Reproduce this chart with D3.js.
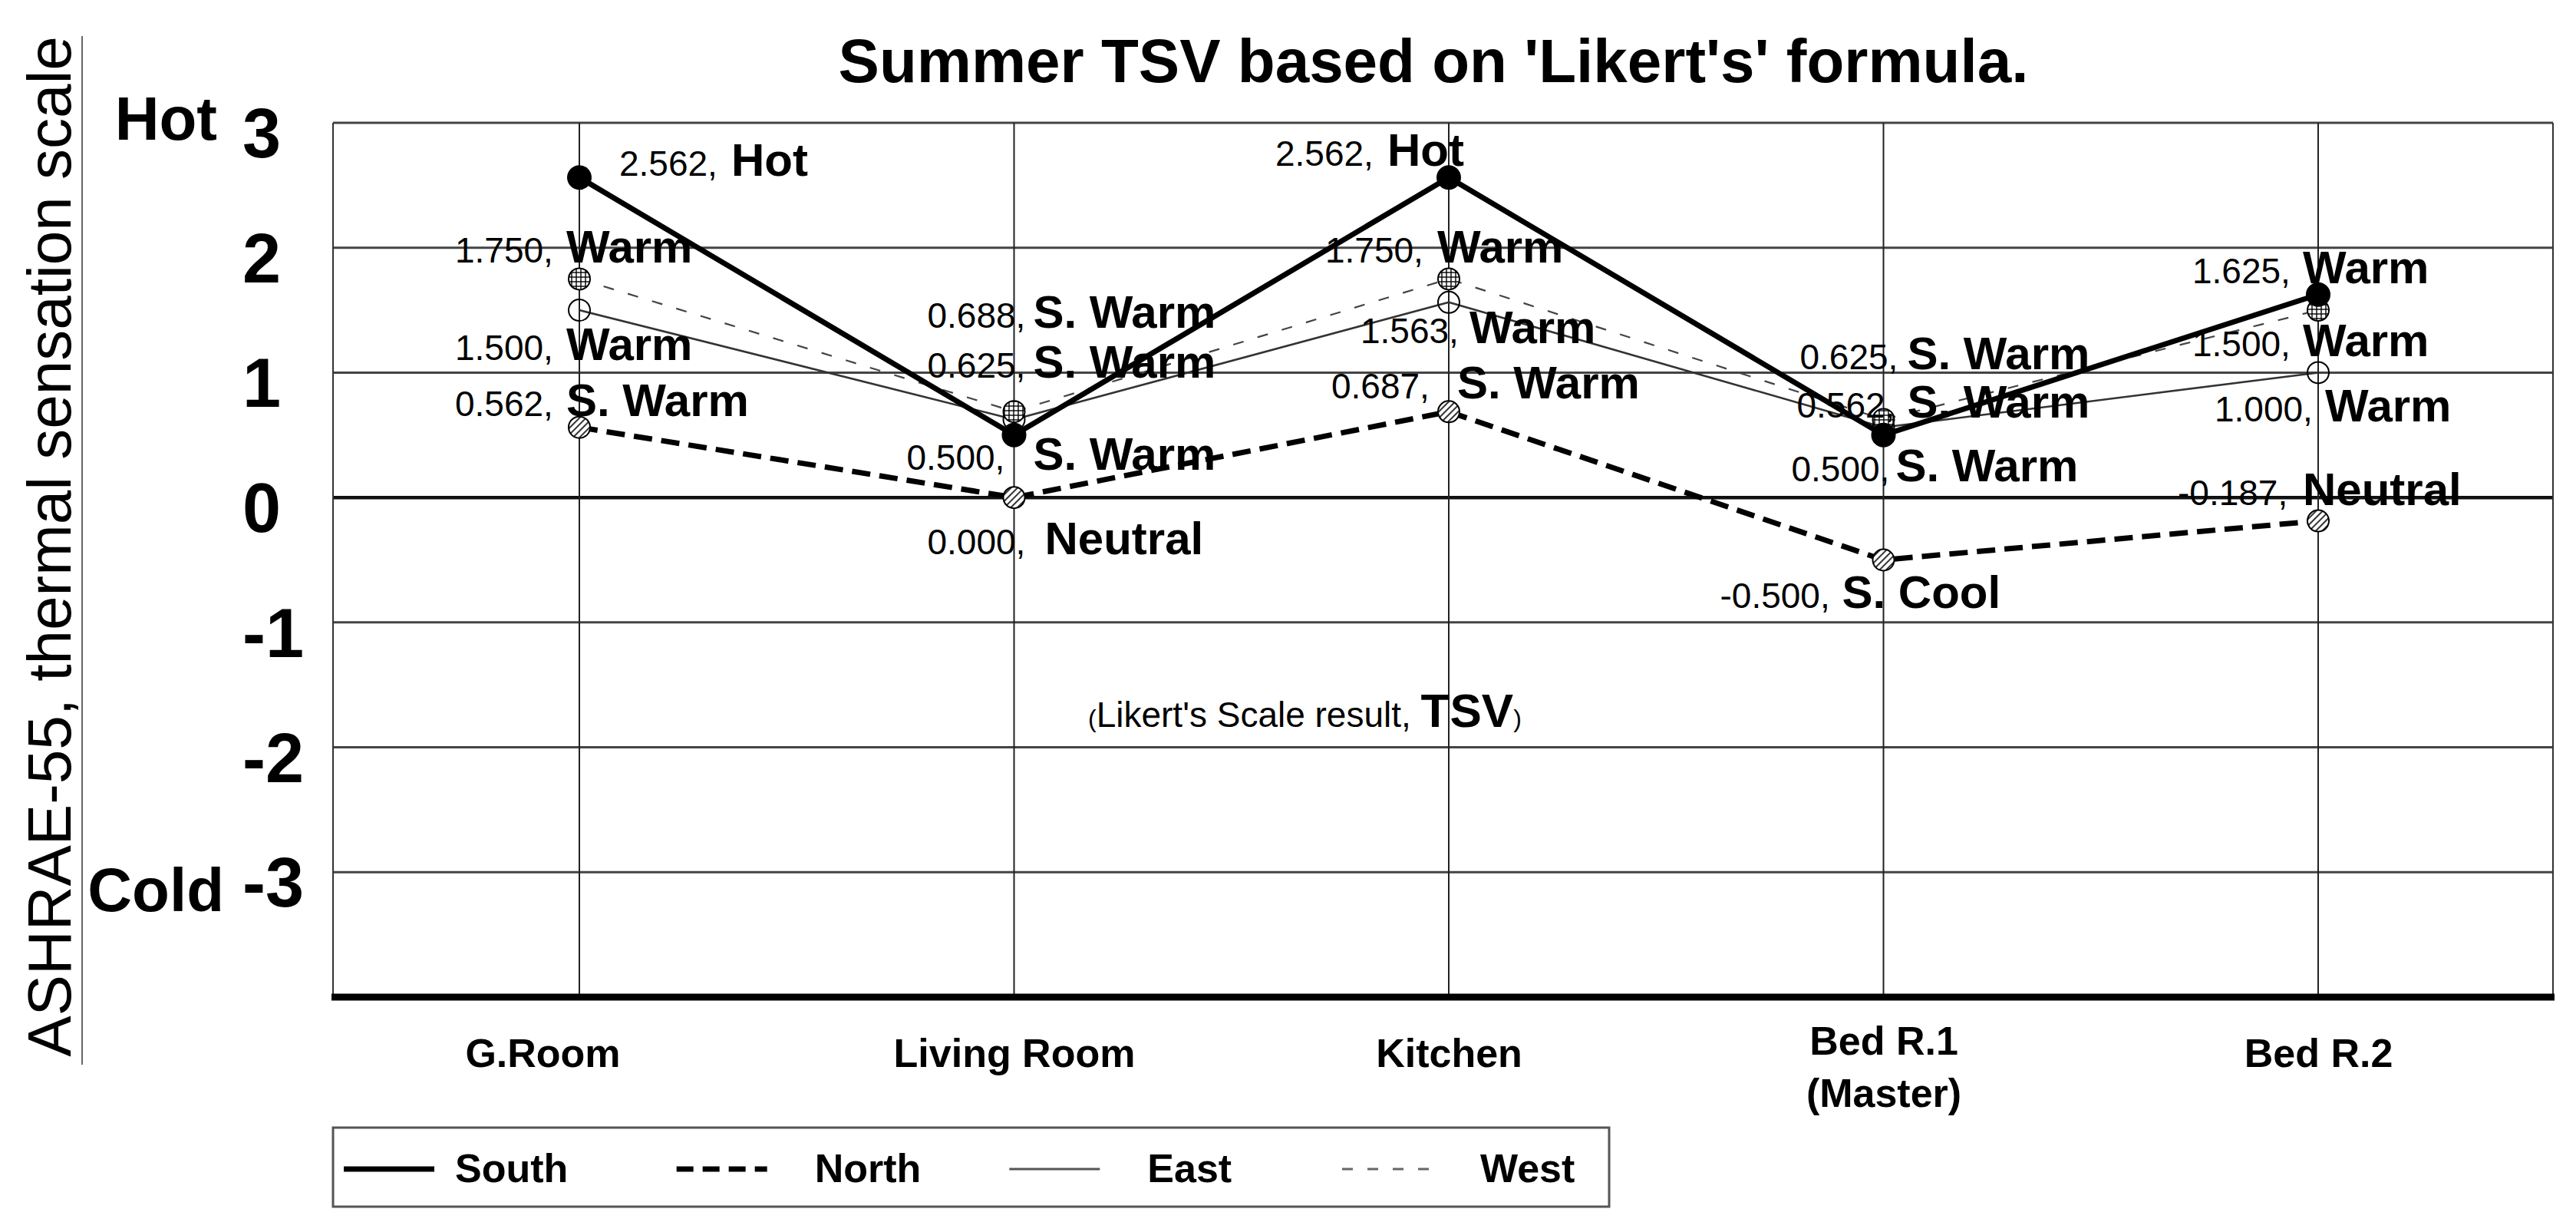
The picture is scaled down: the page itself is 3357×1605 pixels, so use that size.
<!DOCTYPE html>
<html><head><meta charset="utf-8">
<script src="https://cdn.jsdelivr.net/npm/d3@7"></script>
<style>
body{margin:0;background:#fff}
svg{display:block}
text{font-family:"Liberation Sans",Arial,Helvetica,sans-serif;fill:#000}
</style>
</head><body>
<svg id="c" width="3357" height="1605"></svg>
<script>
// ---------- data ----------
const categories = ["G.Room", "Living Room", "Kitchen", "Bed R.1\n(Master)", "Bed R.2"];
const southValues = [2.562, 0.500, 2.562, 0.500, 1.625];
const northValues = [0.562, 0.000, 0.687, -0.500, -0.187];
const eastValues  = [1.500, 0.625, 1.563, 0.562, 1.000];
const westValues  = [1.750, 0.688, 1.750, 0.625, 1.500];
const southWords = ["Hot", "S. Warm", "Hot", "S. Warm", "Warm"];
const northWords = ["S. Warm", "Neutral", "S. Warm", "S. Cool", "Neutral"];
const eastWords  = ["Warm", "S. Warm", "Warm", "S. Warm", "Warm"];
const westWords  = ["Warm", "S. Warm", "Warm", "S. Warm", "Warm"];
const seriesNames = ["South", "North", "East", "West"];
const yTickValues = [3, 2, 1, 0, -1, -2, -3];
const yTopWord = "Hot";
const yBottomWord = "Cold";
const titleText = "Summer TSV based on 'Likert's' formula.";
const yAxisTitle = "ASHRAE-55, thermal sensation scale";

// ---------- label placement (offsets from each point: number x, word x, baseline dy) ----------
const labelOffsets = {
  South: [[52,198,-2],[-140,25,45],[-226,-80,-15],[-120,16,60],[-164,-20,-15]],
  North: [[-162,-17,-15],[-113,40,74],[-153,11,-17],[-213,-54,62],[-183,-20,-21]],
  East:  [[-162,-17,65],[-113,25,-54],[-115,27,53],[-113,31,-13],[-135,9,64]],
  West:  [[-162,-17,-21],[-113,25,-109],[-161,-15,-21],[-109,31,-65],[-164,-20,60]]
};

const svg = d3.select("#c");
const plot = {left: 434, right: 3327, top: 160, bottom: 1299};

const x = d3.scalePoint().domain(categories).range([755, 3021]);
const y = d3.scaleLinear().domain([-4, 3]).range([plot.bottom, plot.top]);
const locale = d3.formatLocale({decimal: ".", thousands: ",", grouping: [3], currency: ["", ""], minus: "-"});
const fmt = locale.format(".3f");
const fmtInt = locale.format("d");

// ---------- patterns ----------
const defs = svg.append("defs");
const hatch = defs.append("pattern").attr("id", "hatch").attr("patternUnits", "userSpaceOnUse")
  .attr("width", 6).attr("height", 6).attr("patternTransform", "rotate(45)");
hatch.append("rect").attr("width", 6).attr("height", 6).attr("fill", "#fff");
hatch.append("line").attr("x1", 1).attr("y1", 0).attr("x2", 1).attr("y2", 6).attr("stroke", "#000").attr("stroke-width", 1.6);
const grid = defs.append("pattern").attr("id", "gridp").attr("patternUnits", "userSpaceOnUse")
  .attr("width", 6).attr("height", 6);
grid.append("rect").attr("width", 6).attr("height", 6).attr("fill", "#fff");
grid.append("line").attr("x1", 1).attr("y1", 0).attr("x2", 1).attr("y2", 6).attr("stroke", "#000").attr("stroke-width", 1.4);
grid.append("line").attr("x1", 0).attr("y1", 1).attr("x2", 6).attr("y2", 1).attr("stroke", "#000").attr("stroke-width", 1.4);

// ---------- title ----------
svg.append("text").attr("x", 1868).attr("y", 107).attr("text-anchor", "middle")
  .attr("font-size", 80).attr("font-weight", "bold").text(titleText);

// ---------- y axis title ----------
svg.append("text").attr("transform", "translate(92,712) rotate(-90)").attr("text-anchor", "middle")
  .attr("font-size", 80).text(yAxisTitle);
svg.append("line").attr("x1", 107).attr("x2", 107).attr("y1", 47).attr("y2", 1387)
  .attr("stroke", "#666").attr("stroke-width", 2);

// ---------- grid ----------
const g = svg.append("g");
g.selectAll("line.h").data(yTickValues).join("line").attr("class", "h")
  .attr("x1", plot.left).attr("x2", plot.right)
  .attr("y1", d => y(d)).attr("y2", d => y(d))
  .attr("stroke", d => d === 0 ? "#111" : "#444")
  .attr("stroke-width", d => d === 0 ? 4.5 : 3);
g.selectAll("line.v").data(categories).join("line").attr("class", "v")
  .attr("x1", d => x(d)).attr("x2", d => x(d))
  .attr("y1", plot.top).attr("y2", plot.bottom)
  .attr("stroke", "#222").attr("stroke-width", 2);
g.append("line").attr("x1", plot.left).attr("x2", plot.left).attr("y1", plot.top).attr("y2", plot.bottom)
  .attr("stroke", "#333").attr("stroke-width", 2);
g.append("line").attr("x1", plot.right).attr("x2", plot.right).attr("y1", plot.top).attr("y2", plot.bottom)
  .attr("stroke", "#333").attr("stroke-width", 2);
g.append("line").attr("x1", plot.left - 2).attr("x2", plot.right + 2).attr("y1", y(-4)).attr("y2", y(-4))
  .attr("stroke", "#000").attr("stroke-width", 9);

// ---------- y tick labels ----------
svg.selectAll("text.yt").data(yTickValues).join("text").attr("class", "yt")
  .attr("x", 316).attr("y", d => y(d) + 45)
  .attr("font-size", 90).attr("font-weight", "bold")
  .text(d => fmtInt(d));
svg.append("text").attr("x", 283).attr("y", y(3) + 22).attr("text-anchor", "end")
  .attr("font-size", 80).attr("font-weight", "bold").text(yTopWord);
svg.append("text").attr("x", 292).attr("y", y(-3) + 51).attr("text-anchor", "end")
  .attr("font-size", 80).attr("font-weight", "bold").text(yBottomWord);

// ---------- x axis labels ----------
const xAxis = svg.append("g").attr("transform", `translate(0,${plot.bottom})`)
  .call(d3.axisBottom(x).tickSize(0).tickFormat(""));
xAxis.select(".domain").remove();
xAxis.selectAll(".tick").each(function(d, i) {
  const lines = d.split("\n");
  const t = d3.select(this).append("text").attr("text-anchor", "middle")
    .attr("font-size", 52).attr("font-weight", "bold").attr("fill", "#000");
  const startY = lines.length > 1 ? 75 : 91;
  const shift = i === 0 ? -48 : 0;
  lines.forEach((ln, k) => t.append("tspan").attr("x", shift).attr("y", startY + k * 68).text(ln));
});

// ---------- series ----------
const series = [
  {name: "West",  values: westValues,  words: westWords,  width: 2.2, dash: "14,19", color: "#444", marker: "url(#gridp)", r: 14},
  {name: "East",  values: eastValues,  words: eastWords,  width: 2.6, dash: null,    color: "#333", marker: "none", r: 14},
  {name: "North", values: northValues, words: northWords, width: 7,   dash: "24,12", color: "#000", marker: "url(#hatch)", r: 14},
  {name: "South", values: southValues, words: southWords, width: 7,   dash: null,    color: "#000", marker: "#000", r: 15}
];
const line = d3.line().x(d => x(d.c)).y(d => y(d.v));
series.forEach(s => {
  const pts = categories.map((c, i) => ({c, v: s.values[i]}));
  svg.append("path").datum(pts).attr("d", line).attr("fill", "none")
    .attr("stroke", s.color).attr("stroke-width", s.width)
    .attr("stroke-dasharray", s.dash).attr("stroke-linejoin", "round");
});
const order = ["East", "West", "North", "South"];
order.forEach(n => {
  const s = series.find(q => q.name === n);
  const pts = categories.map((c, i) => ({c, v: s.values[i]}));
  svg.selectAll(null).data(pts).join("circle")
    .attr("cx", d => x(d.c)).attr("cy", d => y(d.v)).attr("r", s.r)
    .attr("fill", s.marker).attr("stroke", "#000").attr("stroke-width", 2);
});

// ---------- data labels ----------
series.forEach(s => {
  categories.forEach((c, i) => {
    const [ndx, wdx, dy] = labelOffsets[s.name][i];
    const px = x(c), py = y(s.values[i]);
    svg.append("text").attr("x", px + ndx).attr("y", py + dy)
      .attr("font-size", 46).text(fmt(s.values[i]) + ",");
    svg.append("text").attr("x", px + wdx).attr("y", py + dy)
      .attr("font-size", 60).attr("font-weight", "bold").text(s.words[i]);
  });
});

// ---------- annotation ----------
const ann = svg.append("text").attr("x", 1418).attr("y", 947);
ann.append("tspan").attr("font-size", 32).text("(");
ann.append("tspan").attr("font-size", 46).text("Likert's Scale result, ");
ann.append("tspan").attr("font-size", 62).attr("font-weight", "bold").text("TSV");
ann.append("tspan").attr("font-size", 32).text(")");

// ---------- legend ----------
const lg = svg.append("g");
lg.append("rect").attr("x", 434).attr("y", 1469).attr("width", 1663).attr("height", 103)
  .attr("fill", "none").attr("stroke", "#555").attr("stroke-width", 3);
const legendStyle = {
  South: {width: 7, dash: null, color: "#000"},
  North: {width: 7, dash: "22,12", color: "#000"},
  East:  {width: 3, dash: null, color: "#555"},
  West:  {width: 3, dash: "14,19", color: "#666"}
};
const lx = d3.scalePoint().domain(seriesNames).range([448, 1749]);
seriesNames.forEach(n => {
  const st = legendStyle[n];
  lg.append("line").attr("x1", lx(n)).attr("x2", lx(n) + 118).attr("y1", 1523).attr("y2", 1523)
    .attr("stroke", st.color).attr("stroke-width", st.width).attr("stroke-dasharray", st.dash);
  lg.append("text").attr("x", lx(n) + (n === "South" ? 145 : 180)).attr("y", 1540)
    .attr("font-size", 52).attr("font-weight", "bold").text(n);
});
</script>
</body></html>
